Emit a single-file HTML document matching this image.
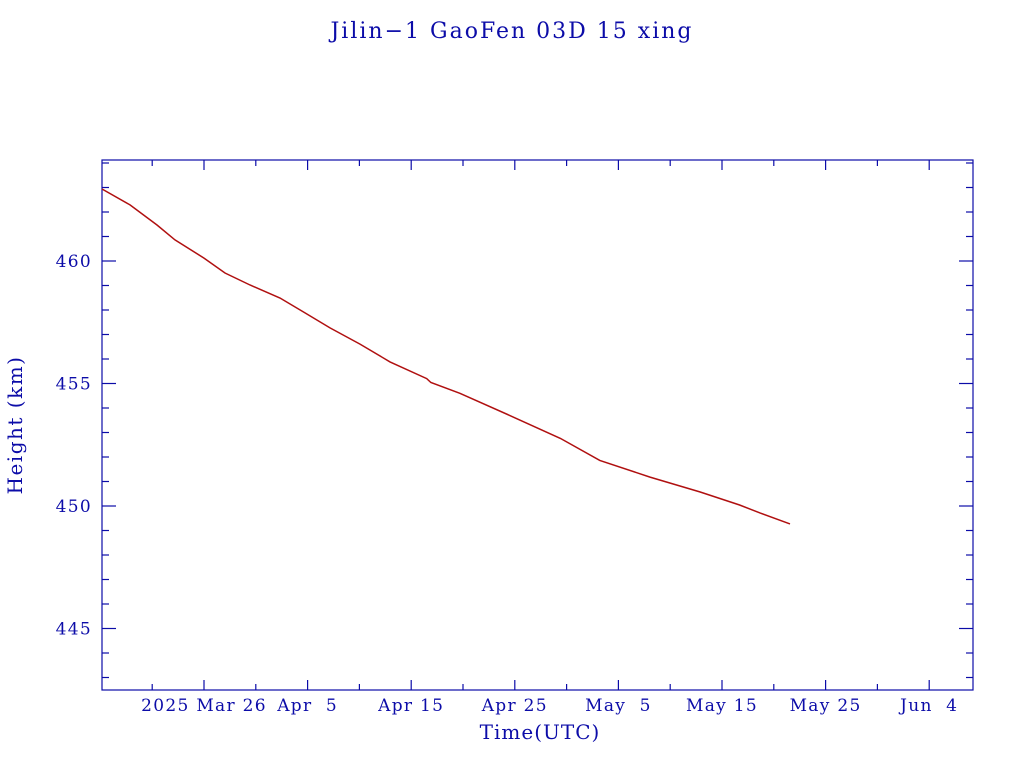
<!DOCTYPE html>
<html><head><meta charset="utf-8"><style>
body{margin:0;background:#fff;}
svg text{font-family:"DejaVu Serif","Liberation Serif",serif;fill:#0c0ca8;}
</style></head><body>
<svg width="1024" height="768">
<text x="512" y="38" text-anchor="middle" font-size="22" letter-spacing="2">Jilin−1 GaoFen 03D 15 xing</text>
<rect x="102" y="160" width="871" height="530" fill="none" stroke="#0c0ca8" stroke-width="1.2"/>
<g id="ticks"></g>
<path id="line" fill="none" stroke="#b01010" stroke-width="1.5"/>
<text x="540" y="739" text-anchor="middle" font-size="20" letter-spacing="1">Time(UTC)</text>
<text transform="translate(22,425) rotate(-90)" text-anchor="middle" font-size="20" letter-spacing="1.5">Height (km)</text>
</svg>
<script>
// days relative to 2025 Mar 26
const days=[-9.85,-7.14,-4.54,-2.8,0,2.03,4.44,7.34,9.75,12.16,15.06,17.95,21.5,21.9,24.7,29.5,34.4,38.2,43.05,47.9,51.7,53.7,56.56];
const heights=[462.94,462.29,461.47,460.86,460.12,459.51,459.02,458.49,457.88,457.27,456.61,455.88,455.2,455.04,454.6,453.7,452.76,451.86,451.18,450.57,450.04,449.71,449.27];
const xTickDays=[0,10,20,30,40,50,60,70];
const xTickLabels=["2025 Mar 26","Apr  5","Apr 15","Apr 25","May  5","May 15","May 25","Jun  4"];
const yTicks=[445,450,455,460];
const X=d=>204+d*10.36;
const Y=v=>261-(v-460)*24.5;
const NS="http://www.w3.org/2000/svg";
const g=document.getElementById('ticks');
function ln(x1,y1,x2,y2,name){const l=document.createElementNS(NS,'line');
l.setAttribute('x1',x1);l.setAttribute('y1',y1);l.setAttribute('x2',x2);l.setAttribute('y2',y2);
l.setAttribute('stroke','#0c0ca8');l.setAttribute('stroke-width','1.2');


g.appendChild(l);}
function tx(x,y,s,anchor,name){const t=document.createElementNS(NS,'text');
t.setAttribute('x',x);t.setAttribute('y',y);t.setAttribute('text-anchor',anchor);t.setAttribute('font-size','17');
t.setAttribute('letter-spacing','1.3');
t.setAttribute('xml:space','preserve');t.style.whiteSpace='pre';t.textContent=s;


g.appendChild(t);}
for(let d=-10;d<=75;d+=5){const x=X(d);if(x<=102||x>=973)continue;const major=d%10===0;const L=major?10:6;
ln(x,690,x,690-L,'x-tick');ln(x,160,x,160+L,'x-tick');}
xTickDays.forEach((d,i)=>tx(X(d),711,xTickLabels[i],'middle','x-tick-label'));
for(let v=443;v<=464;v++){const y=Y(v);if(y<160||y>690)continue;const major=v%5===0;const L=major?14:7;
ln(102,y,102+L,y,'y-tick');ln(973,y,973-L,y,'y-tick');}
yTicks.forEach(v=>tx(92,Y(v)+6,String(v),'end','y-tick-label'));
document.getElementById('line').setAttribute('d',days.map((d,i)=>(i?'L':'M')+X(d).toFixed(1)+','+Y(heights[i]).toFixed(1)).join(''));
</script>
</body></html>
